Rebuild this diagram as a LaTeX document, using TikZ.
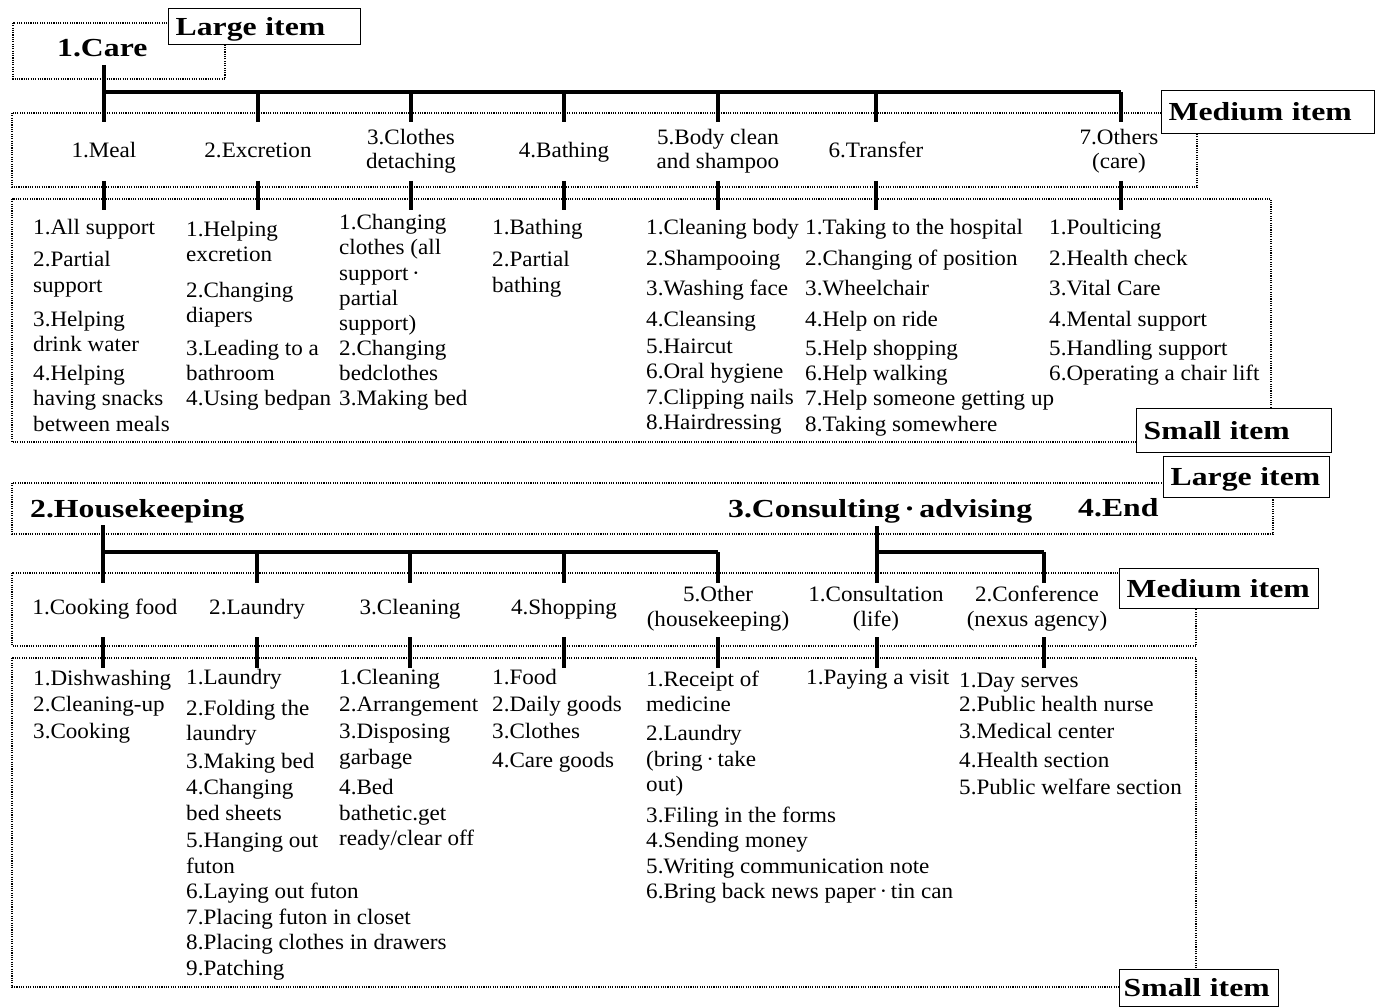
\documentclass[tikz,border=0pt]{standalone}
\usepackage{fontspec}
\setmainfont{Liberation Serif}[FakeStretch=1.05]
\newfontfamily\widebf{Liberation Serif}[FakeStretch=1.22]
\newcommand\LabFont{\widebf\bfseries\fontsize{26}{30}\selectfont}
\newcommand\ItemFont{\fontsize{22}{24}\selectfont}
\begin{document}
\begin{tikzpicture}[x=1pt,y=-1pt,
  dotbox/.style={line width=1.1pt, dash pattern=on 1.1pt off 1.2pt},
  tree/.style={line width=3.2pt},
  tag/.style={draw, line width=1.4pt, fill=white, anchor=north west,
    inner xsep=7pt, inner ysep=0pt, align=left, font=\LabFont,
    text height=17pt, text depth=0pt},
  big/.style={anchor=base west, inner sep=0pt, font=\LabFont},
  med/.style={anchor=north, inner sep=0pt, align=center, font=\ItemFont},
  med2/.style={anchor=north, inner sep=0pt, align=center, font=\fontsize{22}{25}\selectfont},
  sm/.style={anchor=base west, inner sep=0pt, yshift=-7.3pt, font=\ItemFont}]
\useasboundingbox (0,0) rectangle (1376,1008);

% ---------- dotted frames ----------
\draw[dotbox] (13,23) rectangle (225,79);
\draw[dotbox] (12,113) rectangle (1197,187);
\draw[dotbox] (12,199) rectangle (1271,442);
\draw[dotbox] (12,483) rectangle (1273,534);
\draw[dotbox] (12,573) rectangle (1196,646);
\draw[dotbox] (12,658) rectangle (1196,987);

% ---------- level tags ----------
\node[tag, minimum height=36pt, text width=178pt] (tagL1) at (168,8) {Large item};
\node[tag, minimum height=43pt, text width=199pt] (tagM1) at (1161,90) {Medium item};
\node[tag, minimum height=44pt, text width=181pt] (tagS1) at (1136,408) {Small item};
\node[tag, minimum height=41pt, text width=152pt] (tagL2) at (1163,456) {Large item};
\node[tag, minimum height=40pt, text width=185pt] (tagM2) at (1119,568) {Medium item};
\node[tag, minimum height=37pt, inner xsep=4pt, text width=151pt] (tagS2) at (1119,969) {Small item};

% ---------- large items ----------
\node[big] (care) at (57,57) {1.Care};
\node[big] (house) at (30,517) {2.Housekeeping};
\node[big] (cons) at (728,517) {3.Consulting\,·\,advising};
\node[big] (theend) at (1078,516) {4.End};

% ---------- care tree ----------
\coordinate (cTop) at (104,65);
\coordinate (cBar) at (104,92);
\coordinate (cEnd) at (1121,92);
\draw[tree] (cTop) -- (cBar) -- (cEnd);
\foreach \x/\t [count=\i] in {104/{1.Meal}, 258/{2.Excretion}, 564/{4.Bathing}, 876/{6.Transfer}}{
  \node[med] (cm\i) at (\x,142.3) {\t};
}
\foreach \x/\t [count=\i from 5] in {411/{3.Clothes\\detaching}, 718/{5.Body clean\\and shampoo}, 1119/{7.Others\\(care)}}{
  \node[med] (cm\i) at (\x,129.3) {\t};
}
\foreach \x [count=\i] in {104,258,411,564,718,876,1121}{
  \coordinate (cu\i) at (\x,92);
  \coordinate (cv\i) at (\x,122);
  \coordinate (cw\i) at (\x,181);
  \coordinate (cz\i) at (\x,210);
  \draw[tree] (cu\i) -- (cv\i);
  \draw[tree] (cw\i) -- (cz\i);
}

% ---------- care small items ----------
\foreach \y/\t [count=\i] in {227/{1.All support}, 259/{2.Partial}, 285/{support}, 319/{3.Helping}, 344/{drink water}, 373/{4.Helping}, 398/{having snacks}, 424/{between meals}}{
  \node[sm] (a1-\i) at (33,\y) {\t};
}
\foreach \y/\t [count=\i] in {229/{1.Helping}, 254/{excretion}, 290/{2.Changing}, 315/{diapers}, 348/{3.Leading to a}, 373/{bathroom}, 398/{4.Using bedpan}}{
  \node[sm] (a2-\i) at (186,\y) {\t};
}
\foreach \y/\t [count=\i] in {222/{1.Changing}, 247/{clothes (all}, 273/{support\,·}, 298/{partial}, 323/{support)}, 348/{2.Changing}, 373/{bedclothes}, 398/{3.Making bed}}{
  \node[sm] (a3-\i) at (339,\y) {\t};
}
\foreach \y/\t [count=\i] in {227/{1.Bathing}, 259/{2.Partial}, 285/{bathing}}{
  \node[sm] (a4-\i) at (492,\y) {\t};
}
\foreach \y/\t [count=\i] in {227/{1.Cleaning body}, 258/{2.Shampooing}, 288/{3.Washing face}, 319/{4.Cleansing}, 346/{5.Haircut}, 371/{6.Oral hygiene}, 397/{7.Clipping nails}, 422/{8.Hairdressing}}{
  \node[sm] (a5-\i) at (646,\y) {\t};
}
\foreach \y/\t [count=\i] in {227/{1.Taking to the hospital}, 258/{2.Changing of position}, 288/{3.Wheelchair}, 319/{4.Help on ride}, 348/{5.Help shopping}, 373/{6.Help walking}, 398/{7.Help someone getting up}, 424/{8.Taking somewhere}}{
  \node[sm] (a6-\i) at (805,\y) {\t};
}
\foreach \y/\t [count=\i] in {227/{1.Poulticing}, 258/{2.Health check}, 288/{3.Vital Care}, 319/{4.Mental support}, 348/{5.Handling support}, 373/{6.Operating a chair lift}}{
  \node[sm] (a7-\i) at (1049,\y) {\t};
}

% ---------- housekeeping / consulting trees ----------
\coordinate (hTop) at (103,525);
\coordinate (hBar) at (103,552);
\coordinate (hEnd) at (718,552);
\draw[tree] (hTop) -- (hBar) -- (hEnd);
\coordinate (kTop) at (877,526);
\coordinate (kBar) at (877,552);
\coordinate (kEnd) at (1044,552);
\draw[tree] (kTop) -- (kBar) -- (kEnd);
\foreach \x/\t [count=\i] in {105/{1.Cooking food}, 257/{2.Laundry}, 410/{3.Cleaning}, 564/{4.Shopping}}{
  \node[med] (hm\i) at (\x,599.3) {\t};
}
\foreach \x/\t [count=\i from 5] in {718/{5.Other\\(housekeeping)}, 876/{1.Consultation\\(life)}, 1037/{2.Conference\\(nexus agency)}}{
  \node[med2] (hm\i) at (\x,586.3) {\t};
}
\foreach \x [count=\i] in {103,257,410,564,718,877,1044}{
  \coordinate (hu\i) at (\x,552);
  \coordinate (hv\i) at (\x,583);
  \coordinate (hw\i) at (\x,637);
  \coordinate (hz\i) at (\x,668);
  \draw[tree] (hu\i) -- (hv\i);
  \draw[tree] (hw\i) -- (hz\i);
}

% ---------- housekeeping / consulting small items ----------
\foreach \y/\t [count=\i] in {678/{1.Dishwashing}, 704/{2.Cleaning-up}, 731/{3.Cooking}}{
  \node[sm] (b1-\i) at (33,\y) {\t};
}
\foreach \y/\t [count=\i] in {677/{1.Laundry}, 708/{2.Folding the}, 733/{laundry}, 761/{3.Making bed}, 787/{4.Changing}, 813/{bed sheets}, 840/{5.Hanging out}, 866/{futon}, 891/{6.Laying out futon}, 917/{7.Placing futon in closet}, 942/{8.Placing clothes in drawers}, 968/{9.Patching}}{
  \node[sm] (b2-\i) at (186,\y) {\t};
}
\foreach \y/\t [count=\i] in {677/{1.Cleaning}, 704/{2.Arrangement}, 731/{3.Disposing}, 757/{garbage}, 787/{4.Bed}, 813/{bathetic.get}, 838/{ready/clear off}}{
  \node[sm] (b3-\i) at (339,\y) {\t};
}
\foreach \y/\t [count=\i] in {677/{1.Food}, 704/{2.Daily goods}, 731/{3.Clothes}, 760/{4.Care goods}}{
  \node[sm] (b4-\i) at (492,\y) {\t};
}
\foreach \y/\t [count=\i] in {679/{1.Receipt of}, 704/{medicine}, 733/{2.Laundry}, 759/{(bring\,·\,take}, 784/{out)}, 815/{3.Filing in the forms}, 840/{4.Sending money}, 866/{5.Writing communication note}, 891/{6.Bring back news paper\,·\,tin can}}{
  \node[sm] (b5-\i) at (646,\y) {\t};
}
\node[sm] (b6-1) at (806,677) {1.Paying a visit};
\foreach \y/\t [count=\i] in {680/{1.Day serves}, 704/{2.Public health nurse}, 731/{3.Medical center}, 760/{4.Health section}, 787/{5.Public welfare section}}{
  \node[sm] (b7-\i) at (959,\y) {\t};
}
\end{tikzpicture}
\end{document}
